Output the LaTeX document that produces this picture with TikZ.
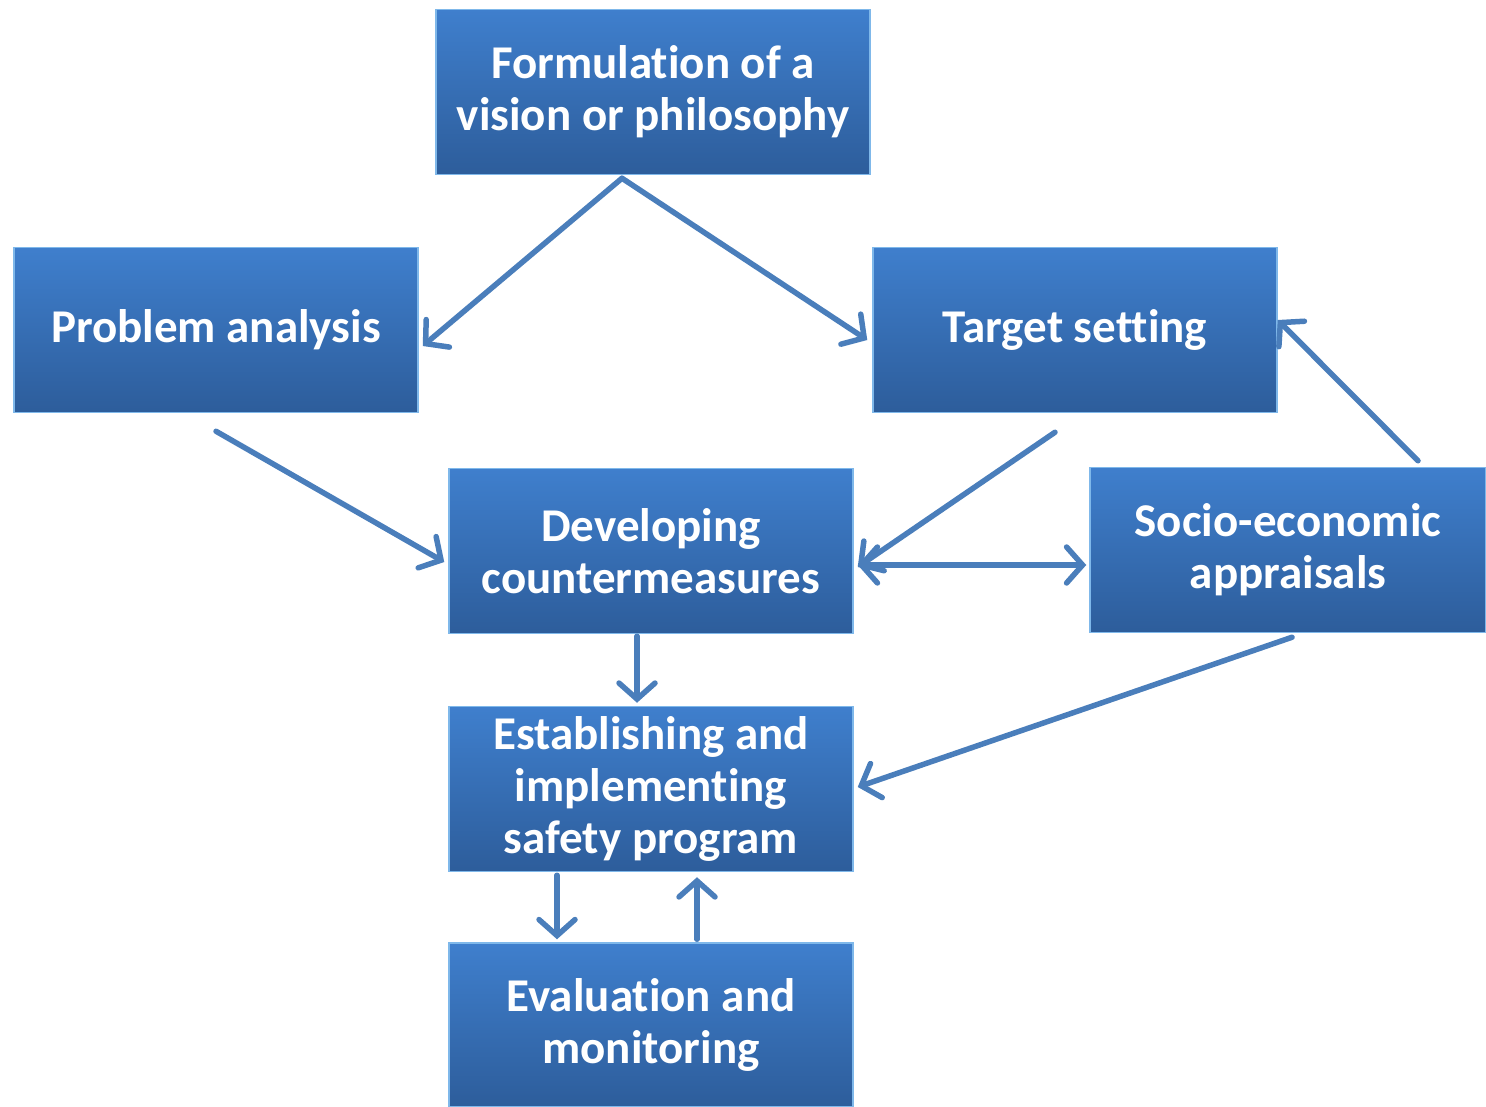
\documentclass[tikz,border=0pt]{standalone}
\usepackage{fontspec}
\setmainfont[RawFeature=-liga]{Carlito}
\usetikzlibrary{arrows.meta}
\definecolor{boxtop}{HTML}{3F7FCD}
\definecolor{boxbot}{HTML}{2D5D9B}
\definecolor{boxrim}{HTML}{7FB8EA}
\definecolor{arr}{HTML}{4A7EBB}
\begin{document}
\begin{tikzpicture}[x=1pt,y=-1pt,
  procbox/.style={rectangle, inner sep=0pt, minimum width=404pt, minimum height=165pt,
    top color=boxtop, bottom color=boxbot, draw=boxrim, line width=1.5pt,
    text=white, align=center, font=\fontsize{47}{52}\selectfont\bfseries},
  conn/.style={draw=arr, line width=5.5pt, line cap=round,
    -{Straight Barb[length=16pt,width=36pt,line cap=round]}},
  dconn/.style={draw=arr, line width=5.5pt, line cap=round,
    {Straight Barb[length=16pt,width=36pt,line cap=round]}-{Straight Barb[length=16pt,width=36pt,line cap=round]}}]
\useasboundingbox (0,0) rectangle (1486,1107);
\node[procbox, minimum width=434pt] (vis) at (653,92) {Formulation of a\\vision or philosophy};
\node[procbox] (pa) at (216,330) {Problem analysis};
\node[procbox] (ts) at (1075,330) {Target setting};
\node[procbox] (dc) at (651,551) {Developing\\countermeasures};
\node[procbox, minimum width=396pt] (se) at (1288,550) {Socio-economic\\appraisals};
\node[procbox] (es) at (651,789) {Establishing and\\implementing\\safety program};
\node[procbox, minimum height=164pt] (ev) at (651,1025) {Evaluation and\\monitoring};
% connectors
\coordinate (visb) at ([xshift=-31pt,yshift=-3pt]vis.south);
\draw[conn] (visb) -- ([xshift=4pt,yshift=-16pt]pa.east);
\draw[conn] (visb) -- ([xshift=-5pt,yshift=-10pt]ts.west);
\draw[conn] ([yshift=-18pt]pa.south) -- ([xshift=-4pt,yshift=-11pt]dc.west);
\draw[conn] ([xshift=-20pt,yshift=-19pt]ts.south) -- ([xshift=4pt,yshift=-16pt]dc.east);
\draw[dconn] ([xshift=4pt,yshift=-14pt]dc.east) -- ([xshift=-3pt,yshift=-15pt]se.west);
\draw[conn] ([xshift=130pt,yshift=6pt]se.north) -- ([xshift=0pt,yshift=10pt]ts.east);
\draw[conn] ([xshift=-14pt,yshift=-2pt]dc.south) -- ([xshift=-14pt,yshift=3pt]es.north);
\draw[conn] ([xshift=4pt,yshift=-4pt]se.south) -- ([xshift=4pt,yshift=2pt]es.east);
\draw[conn] ([xshift=-94pt,yshift=-3pt]es.south) -- ([xshift=-94pt,yshift=3pt]ev.north);
\draw[conn] ([xshift=46pt,yshift=3pt]ev.north) -- ([xshift=46pt,yshift=-5pt]es.south);
\end{tikzpicture}
\end{document}
